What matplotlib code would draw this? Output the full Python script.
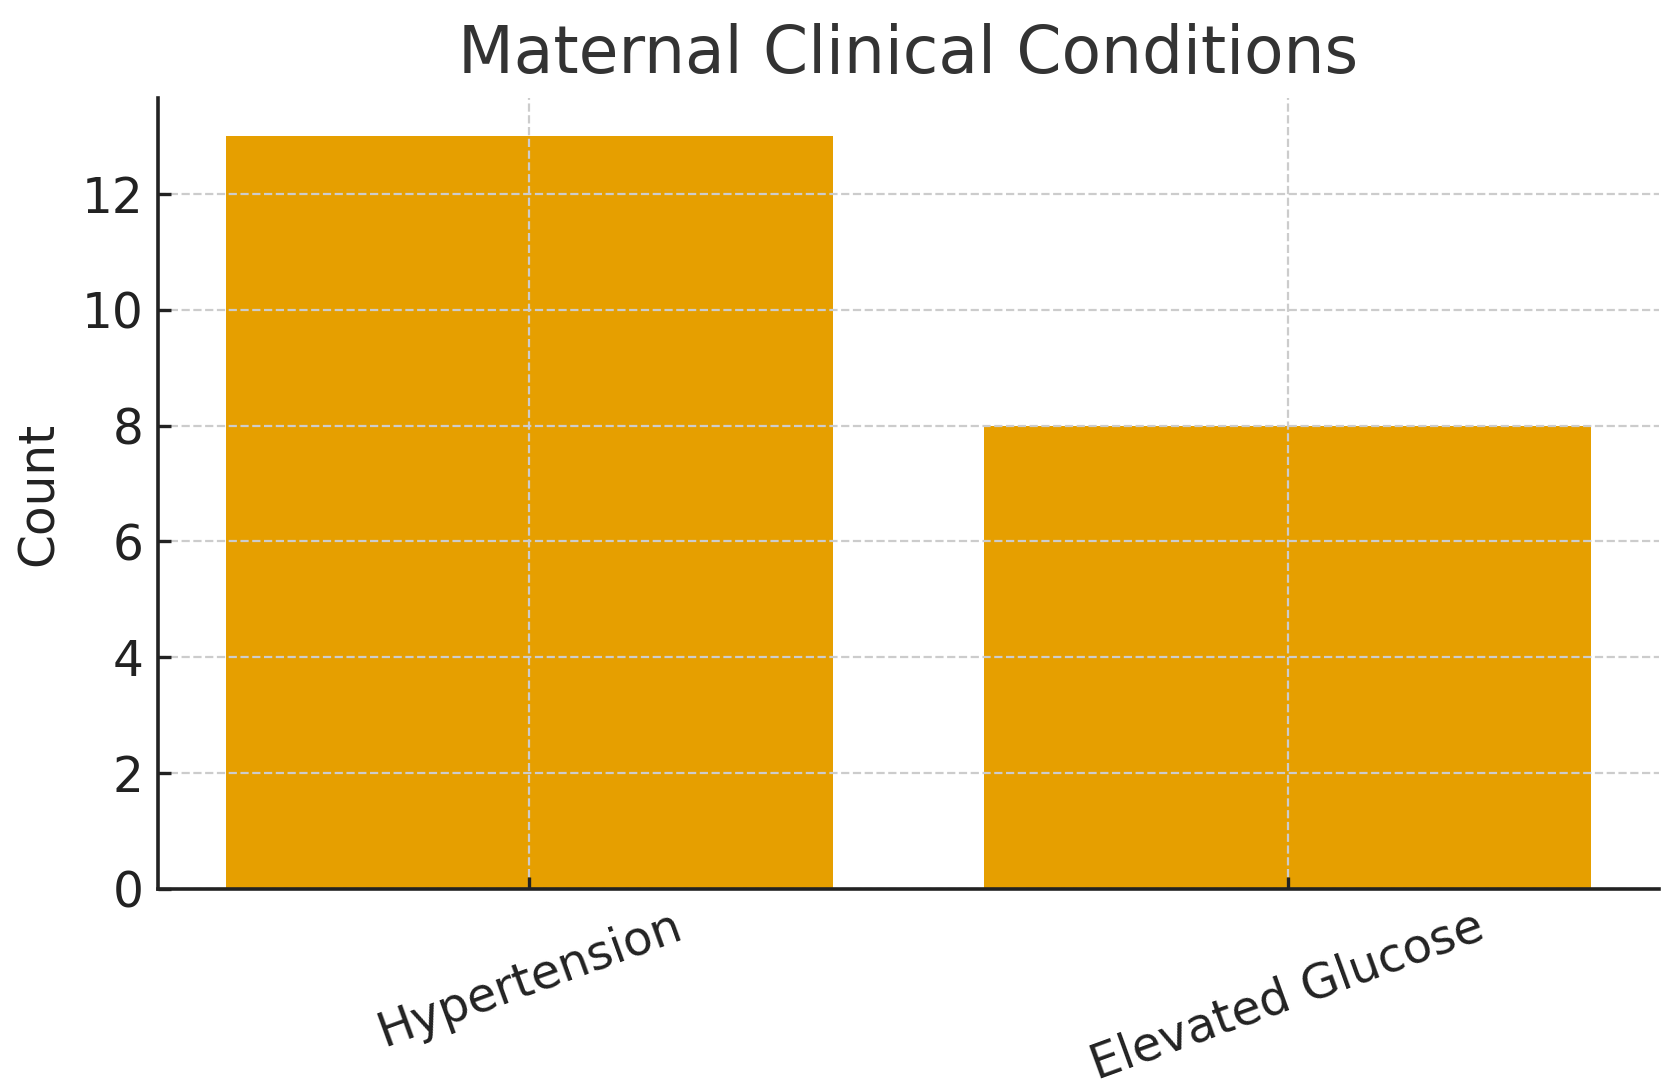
import matplotlib
matplotlib.use('Agg')
import matplotlib.pyplot as plt

# data
conditions = ['Hypertension', 'Elevated Glucose']
counts = [13, 8]

bar_color = '#E69F00'


def main():
  fig = plt.figure(figsize=(16.78, 10.92), dpi=100)
  ax = fig.add_axes([0.094, 0.1863, 0.8947, 0.7235])

  ax.bar(conditions, counts, width=0.8, color=bar_color)

  ax.set_title('Maternal Clinical Conditions', fontsize=46.5, color='#333333', pad=18)
  ax.set_ylabel('Count', fontsize=35, color='#222222', labelpad=14)

  ax.grid(True, linestyle='--', color='#cccccc', linewidth=1.6)
  ax.spines['top'].set_visible(False)
  ax.spines['right'].set_visible(False)
  for side in ('left', 'bottom'):
    ax.spines[side].set_linewidth(2.6)
    ax.spines[side].set_color('#222222')

  ax.tick_params(axis='both', direction='in', length=9, width=2.4, labelsize=35,
                 colors='#222222', pad=10)
  ax.set_yticks([0, 2, 4, 6, 8, 10, 12])
  for lbl in ax.get_xticklabels():
    lbl.set_rotation(20)
    lbl.set_ha('center')
    lbl.set_fontsize(34.5)

  fig.savefig('out.png', dpi=100)


if __name__ == '__main__':
  main()
